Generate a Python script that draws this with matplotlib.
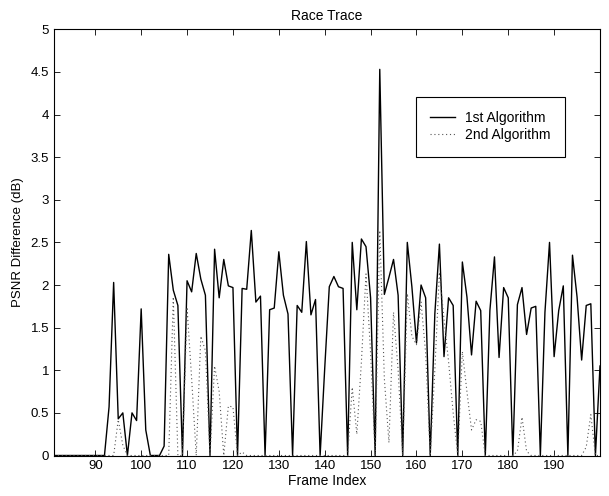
import matplotlib
import numpy as np

matplotlib.use("Agg")
import matplotlib.pyplot as plt
from matplotlib.ticker import FuncFormatter

plt.rcParams["font.family"] = ["Liberation Sans", "DejaVu Sans"]
plt.rcParams["font.size"] = 9

# frame numbers shown on the axis
frames = np.arange(81, 201)

# PSNR difference (dB), one value per frame 81..200
first_algorithm = [
    0, 0, 0, 0, 0, 0, 0, 0, 0, 0, 0, 0,                          # 81-92
    0.57, 2.03, 0.43, 0.50, 0, 0.50, 0.41, 1.72, 0.30, 0,        # 93-102
    0, 0, 0.11, 2.36, 1.94, 1.76, 0, 2.05, 1.92, 2.37,           # 103-112
    2.07, 1.88, 0, 2.42, 1.85, 2.30, 1.99, 1.97, 0, 1.96,        # 113-122
    1.95, 2.64, 1.80, 1.87, 0, 1.71, 1.73, 2.39, 1.88, 1.66,     # 123-132
    0, 1.76, 1.68, 2.51, 1.65, 1.83, 0, 1.02, 1.98, 2.10,        # 133-142
    1.98, 1.96, 0, 2.50, 1.71, 2.54, 2.45, 1.85, 0, 4.53,        # 143-152
    1.89, 2.09, 2.30, 1.88, 0, 2.50, 1.98, 1.32, 2.00, 1.85,     # 153-162
    0, 1.66, 2.48, 1.16, 1.85, 1.76, 0, 2.27, 1.86, 1.18,        # 163-172
    1.81, 1.70, 0, 1.70, 2.33, 1.15, 1.97, 1.85, 0, 1.77,        # 173-182
    1.97, 1.42, 1.73, 1.75, 0, 1.68, 2.50, 1.16, 1.70, 1.99,     # 183-192
    0, 2.35, 1.86, 1.12, 1.76, 1.78, 0, 1.05,                    # 193-200
]

second_algorithm = [
    0, 0, 0, 0, 0, 0, 0, 0, 0, 0, 0, 0, 0, 0,                    # 81-94
    0.42, 0.12, 0, 0, 0, 0, 0, 0, 0, 0,                          # 95-104
    0, 0, 1.86, 0, 0, 1.74, 0.90, 0, 1.40, 1.23,                 # 105-114
    0, 1.05, 0.75, 0, 0.58, 0.57, 0, 0.04, 0, 0,                 # 115-124
    0, 0, 0, 0, 0, 0, 0, 0, 0, 0,                                # 125-134
    0, 0, 0, 0, 0, 0, 0, 0, 0, 0,                                # 135-144
    0, 0.80, 0.25, 1.10, 2.13, 1.20, 0, 2.64, 0.90, 0.15,        # 145-154
    1.68, 1.00, 0, 1.90, 1.40, 1.30, 1.80, 1.20, 0, 1.00,        # 155-164
    2.15, 1.60, 1.10, 0.50, 0, 1.22, 0.75, 0.30, 0.42, 0.40,     # 165-174
    0, 0, 0, 0, 0, 0, 0, 0.05, 0.45, 0.05,                       # 175-184
    0, 0, 0, 0, 0, 0, 0, 0, 0, 0,                                # 185-194
    0, 0, 0.10, 0.48, 0, 0,                                      # 195-200
]

x_ticks = np.arange(90, 200, 10)
y_ticks = np.arange(0, 5.01, 0.5)

fig = plt.figure(figsize=(6.09, 4.96), dpi=100)
ax = fig.add_axes([54 / 609, 1 - 455.5 / 496, 546 / 609, 426.2 / 496])

ax.plot(frames, first_algorithm, color="black", linewidth=1.0, label="1st Algorithm")
ax.plot(frames, second_algorithm, color="#555555", linewidth=0.8, linestyle=(0, (1, 2.5)),
        label="2nd Algorithm")

ax.set_xlim(81, 200)
ax.set_ylim(0, 5)
ax.set_xticks(x_ticks)
ax.set_yticks(y_ticks)
ax.yaxis.set_major_formatter(FuncFormatter(lambda v, _: f"{v:g}"))
ax.tick_params(direction="in", length=4, width=0.6, top=True, right=True, labelsize=9.5)
for spine in ax.spines.values():
    spine.set_linewidth(0.8)

ax.set_title("Race Trace", fontsize=10, pad=7)
ax.set_xlabel("Frame Index", fontsize=10, labelpad=1)
ax.set_ylabel("PSNR Difference (dB)", fontsize=9.5, labelpad=5)

legend = ax.legend(loc="upper right", bbox_to_anchor=(0.936, 0.842), fancybox=False,
                   edgecolor="black", framealpha=1, fontsize=10, borderpad=1.05,
                   handlelength=1.8, handletextpad=0.7, labelspacing=0.2,
                   borderaxespad=0)
legend.get_frame().set_linewidth(0.8)

fig.savefig("out.png", dpi=100)
plt.close(fig)
